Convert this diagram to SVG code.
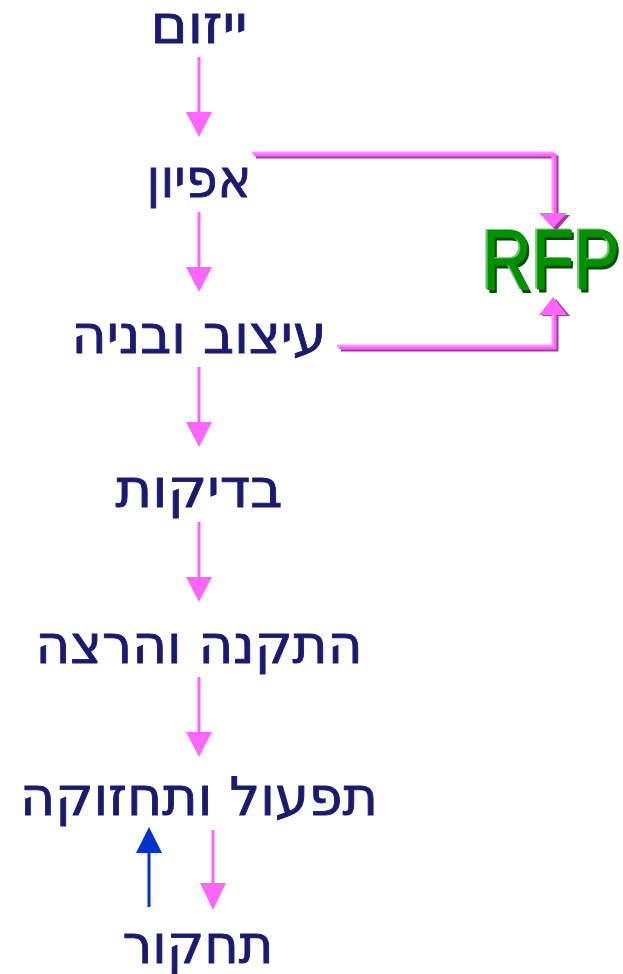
<svg xmlns="http://www.w3.org/2000/svg" width="623" height="974" viewBox="0 0 623 974">
<style>
.t{font-family:"DejaVu Sans","Noto Sans",sans-serif;font-size:53px;fill:#1a1a6e;stroke:#1a1a6e;stroke-width:0.9;text-anchor:middle;direction:rtl;unicode-bidi:embed}
.ln{stroke:#ff66ff;stroke-width:3;fill:none}
.hd{fill:#ff66ff}
.sh{stroke:#9e3d9e;stroke-width:3;fill:none}
.hl{stroke:#ff99ff;stroke-width:3;fill:none}
</style>
<defs>
<filter id="emb" x="-10%" y="-10%" width="120%" height="125%">
<feFlood flood-color="#005000" result="f1"/>
<feComposite in="f1" in2="SourceAlpha" operator="in" result="c1"/>
<feOffset in="c1" dx="2" dy="3" result="dark"/>
<feFlood flood-color="#6cc86c" result="f2"/>
<feComposite in="f2" in2="SourceAlpha" operator="in" result="c2"/>
<feOffset in="c2" dx="-2" dy="-1" result="light"/>
<feMerge><feMergeNode in="dark"/><feMergeNode in="light"/><feMergeNode in="SourceGraphic"/></feMerge>
</filter>
</defs>
<rect width="623" height="974" fill="#ffffff"/>
<g id="n1"><text class="t" x="199" y="43" textLength="97" lengthAdjust="spacingAndGlyphs">ייזום</text></g>
<g id="n2"><text class="t" x="199" y="197" textLength="105" lengthAdjust="spacingAndGlyphs">אפיון</text></g>
<g id="n3"><text class="t" x="199" y="353" textLength="255" lengthAdjust="spacingAndGlyphs">עיצוב ובניה</text></g>
<g id="n4"><text class="t" x="199" y="507" textLength="167" lengthAdjust="spacingAndGlyphs">בדיקות</text></g>
<g id="n5"><text class="t" x="199" y="663" textLength="327" lengthAdjust="spacingAndGlyphs">התקנה והרצה</text></g>
<g id="n6"><text class="t" x="199" y="815" textLength="358" lengthAdjust="spacingAndGlyphs">תפעול ותחזוקה</text></g>
<g id="n7"><text class="t" x="198" y="963" textLength="151" lengthAdjust="spacingAndGlyphs">תחקור</text></g>
<g id="rfp">
<text transform="translate(551,289) scale(0.8,1)" text-anchor="middle" font-family="Liberation Sans,Arial,sans-serif" font-size="86" fill="#009000" stroke="#009000" stroke-width="1" filter="url(#emb)">RFP</text>
</g>
<g id="connectors">
<line class="ln" x1="199" y1="57" x2="199" y2="115"/><polygon class="hd" points="186,112 212,112 199,137"/>
<line class="ln" x1="199" y1="212" x2="199" y2="270"/><polygon class="hd" points="186,267 212,267 199,292"/>
<line class="ln" x1="199" y1="367" x2="199" y2="425"/><polygon class="hd" points="186,422 212,422 199,447"/>
<line class="ln" x1="199" y1="522" x2="199" y2="580"/><polygon class="hd" points="186,577 212,577 199,602"/>
<line class="ln" x1="199" y1="677" x2="199" y2="735"/><polygon class="hd" points="186,732 212,732 199,757"/>
<line class="ln" x1="213" y1="830" x2="213" y2="886"/><polygon class="hd" points="200,883 226,883 213,910"/>
<line x1="149" y1="907" x2="149" y2="850" stroke="#0033cc" stroke-width="3"/><polygon fill="#0033cc" points="136,853 162,853 149,827"/>
<polyline class="sh" points="256,157 557,157 557,215"/>
<polygon fill="#9e3d9e" points="542,215 570,215 556,231"/>
<polyline class="hl" points="252,153 553,153 553,212"/>
<polyline class="ln" points="254,155 555,155 555,213"/>
<polygon class="hd" points="539,213 567,213 553,228"/>
<polyline class="sh" points="341,350 557,350 557,316"/>
<polygon fill="#9e3d9e" points="542,316 570,316 556,299"/>
<polyline class="hl" points="337,346 553,346 553,314"/>
<polyline class="ln" points="339,348 555,348 555,314"/>
<polygon class="hd" points="539,315 567,315 553,297"/>
</g>
</svg>
